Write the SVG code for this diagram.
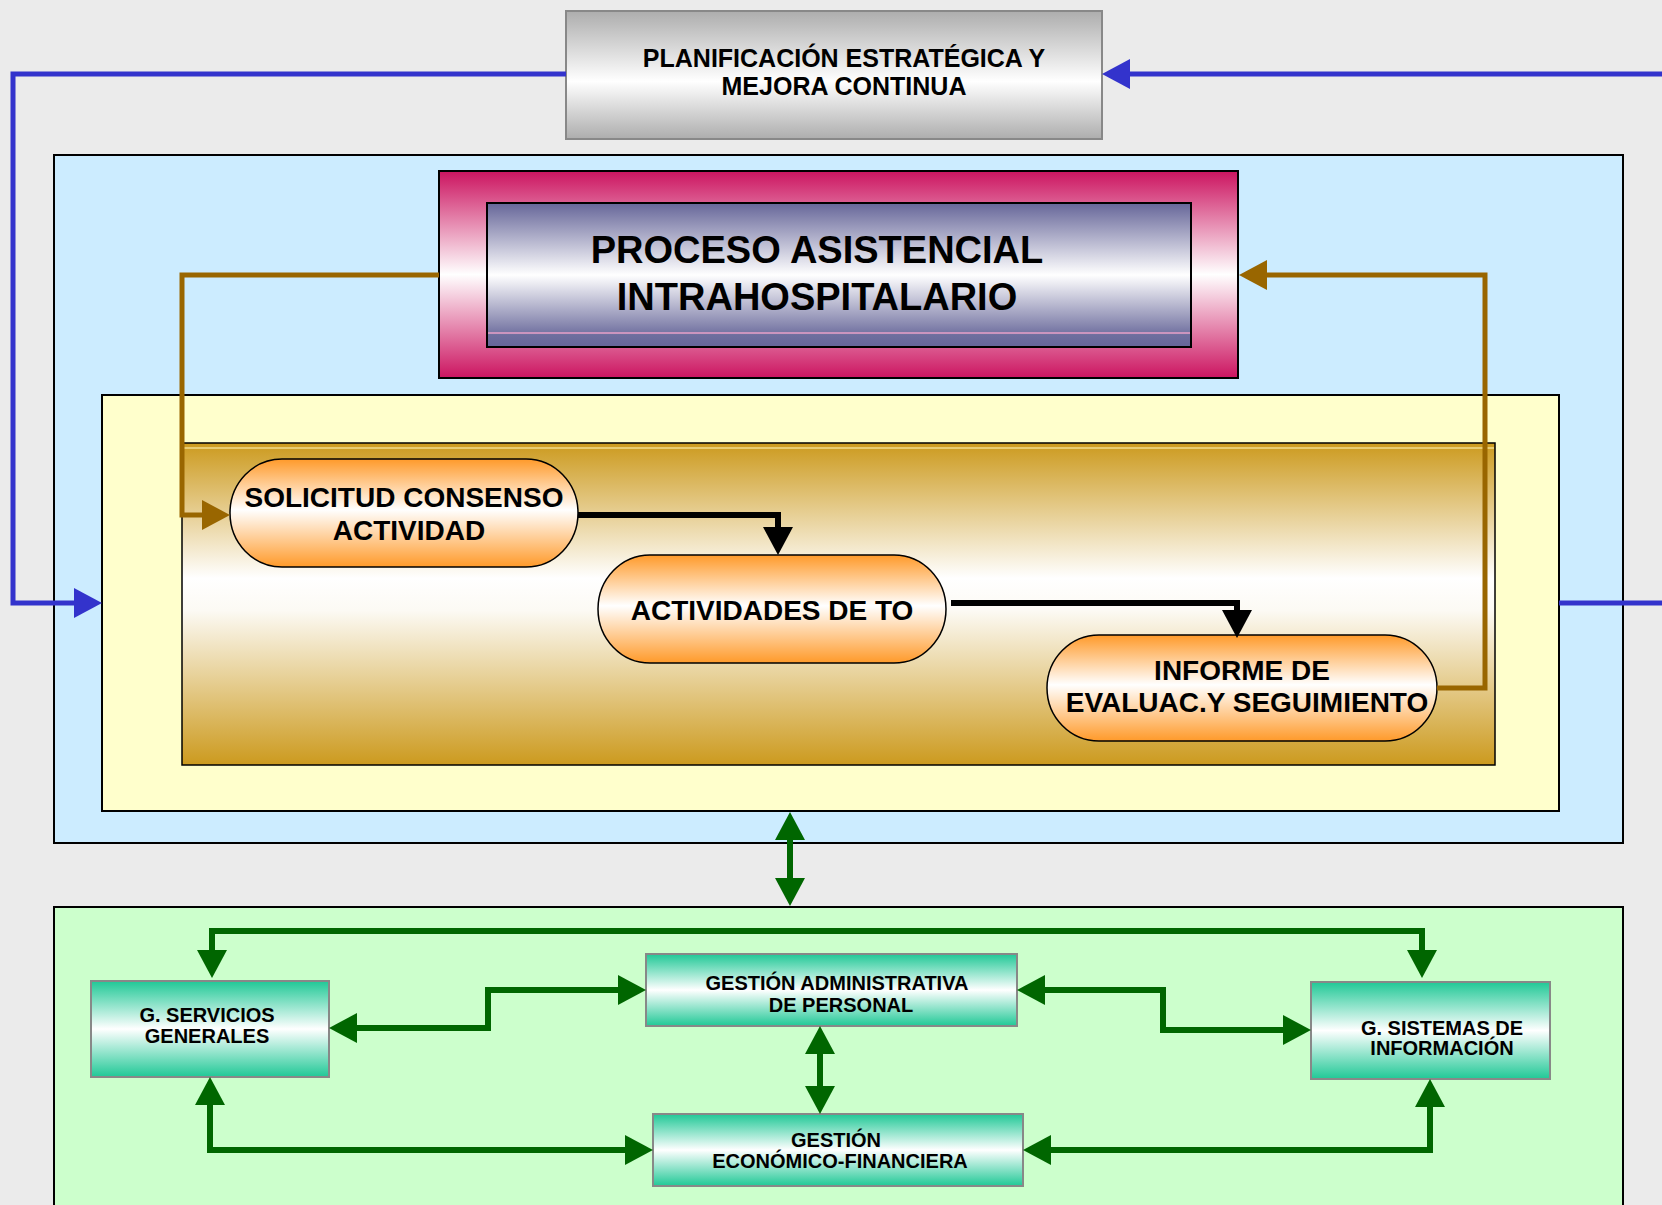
<svg xmlns="http://www.w3.org/2000/svg" width="1662" height="1205" viewBox="0 0 1662 1205">
<defs>
<linearGradient id="gGray" x1="0" y1="0" x2="0" y2="1">
<stop offset="0" stop-color="#ADADAD"/><stop offset="0.55" stop-color="#FFFFFF"/><stop offset="1" stop-color="#ADADAD"/>
</linearGradient>
<linearGradient id="gPink" x1="0" y1="0" x2="0" y2="1">
<stop offset="0" stop-color="#CC1460"/><stop offset="0.5" stop-color="#FFFFFF"/><stop offset="1" stop-color="#CC1460"/>
</linearGradient>
<linearGradient id="gPurple" x1="0" y1="0" x2="0" y2="1">
<stop offset="0" stop-color="#666699"/><stop offset="0.5" stop-color="#FFFFFF"/><stop offset="0.92" stop-color="#6E6E9E"/><stop offset="1" stop-color="#666699"/>
</linearGradient>
<linearGradient id="gGold" x1="0" y1="0" x2="0" y2="1">
<stop offset="0" stop-color="#CC9A1E"/><stop offset="0.42" stop-color="#FFFFFF"/><stop offset="0.52" stop-color="#FCFAF4"/><stop offset="1" stop-color="#CC9A1E"/>
</linearGradient>
<linearGradient id="gOrange" x1="0" y1="0" x2="0" y2="1">
<stop offset="0" stop-color="#FF9A2A"/><stop offset="0.47" stop-color="#FFFFFF"/><stop offset="1" stop-color="#FF9A2A"/>
</linearGradient>
<linearGradient id="gTeal" x1="0" y1="0" x2="0" y2="1">
<stop offset="0" stop-color="#20C896"/><stop offset="0.5" stop-color="#FFFFFF"/><stop offset="1" stop-color="#20C896"/>
</linearGradient>
<marker id="aBlue" viewBox="0 0 28 30" refX="18" refY="15" markerWidth="28" markerHeight="30" markerUnits="userSpaceOnUse" orient="auto-start-reverse"><path d="M0,0 L28,15 L0,30 z" fill="#3333CC"/></marker>
<marker id="aBrown" viewBox="0 0 28 30" refX="18" refY="15" markerWidth="28" markerHeight="30" markerUnits="userSpaceOnUse" orient="auto-start-reverse"><path d="M0,0 L28,15 L0,30 z" fill="#996600"/></marker>
<marker id="aBlack" viewBox="0 0 28 30" refX="18" refY="15" markerWidth="28" markerHeight="30" markerUnits="userSpaceOnUse" orient="auto-start-reverse"><path d="M0,0 L28,15 L0,30 z" fill="#000000"/></marker>
<marker id="aGreen" viewBox="0 0 28 30" refX="18" refY="15" markerWidth="28" markerHeight="30" markerUnits="userSpaceOnUse" orient="auto-start-reverse"><path d="M0,0 L28,15 L0,30 z" fill="#006600"/></marker>
</defs>
<style>
text{font-family:"Liberation Sans",Arial,sans-serif;font-weight:bold;fill:#000;text-anchor:middle}
.t1{font-size:25px}
.t2{font-size:38px}
.t3{font-size:28px}
.t4{font-size:20px}
.blue{stroke:#3333CC;stroke-width:5;fill:none}
.brown{stroke:#996600;stroke-width:5;fill:none}
.black{stroke:#000;stroke-width:6;fill:none}
.green{stroke:#006600;stroke-width:6;fill:none}
.teal{fill:url(#gTeal);stroke:#888;stroke-width:2}
.node{fill:url(#gOrange);stroke:#000;stroke-width:1.5}
</style>
<rect x="0" y="0" width="1662" height="1205" fill="#EBEBEB"/>
<g id="container-blue"><rect x="54" y="155" width="1569" height="688" fill="#CCECFF" stroke="#000" stroke-width="2"/></g>
<g id="container-yellow"><rect x="102" y="395" width="1457" height="416" fill="#FFFFCC" stroke="#000" stroke-width="2"/></g>
<g id="container-gold"><rect x="182" y="443" width="1313" height="322" fill="url(#gGold)" stroke="#000" stroke-width="1.5"/><line x1="183" y1="448" x2="1494" y2="448" stroke="#F2DC8C" stroke-width="1.5"/></g>
<g id="container-green"><rect x="54" y="907" width="1569" height="310" fill="#CCFFCC" stroke="#000" stroke-width="2"/></g>
<g id="planificacion">
<rect x="566" y="11" width="536" height="128" fill="url(#gGray)" stroke="#888" stroke-width="2"/>
<text class="t1" x="844" y="67">PLANIFICACIÓN ESTRATÉGICA Y</text>
<text class="t1" x="844" y="95">MEJORA CONTINUA</text>
</g>
<g id="proceso">
<rect x="439" y="171" width="799" height="207" fill="url(#gPink)" stroke="#000" stroke-width="2"/>
<rect x="487" y="203" width="704" height="144" fill="url(#gPurple)" stroke="#000" stroke-width="2"/>
<line x1="488" y1="333" x2="1190" y2="333" stroke="#E8A0C8" stroke-width="1.5"/>
<text class="t2" x="817" y="263">PROCESO ASISTENCIAL</text>
<text class="t2" x="817" y="310">INTRAHOSPITALARIO</text>
</g>
<g id="solicitud">
<rect class="node" x="230" y="459" width="348" height="108" rx="52" ry="54"/>
<text class="t3" x="404" y="507">SOLICITUD CONSENSO</text>
<text class="t3" x="409" y="540">ACTIVIDAD</text>
</g>
<g id="actividades">
<rect class="node" x="598" y="555" width="348" height="108" rx="52" ry="54"/>
<text class="t3" x="772" y="620">ACTIVIDADES DE TO</text>
</g>
<g id="informe">
<rect class="node" x="1047" y="635" width="390" height="106" rx="52" ry="53"/>
<text class="t3" x="1242" y="680">INFORME DE</text>
<text class="t3" x="1247" y="712">EVALUAC.Y SEGUIMIENTO</text>
</g>
<g id="servicios">
<rect class="teal" x="91" y="981" width="238" height="96"/>
<text class="t4" x="207" y="1022">G. SERVICIOS</text>
<text class="t4" x="207" y="1043">GENERALES</text>
</g>
<g id="administrativa">
<rect class="teal" x="646" y="954" width="371" height="72"/>
<text class="t4" x="837" y="990">GESTIÓN ADMINISTRATIVA</text>
<text class="t4" x="841" y="1012">DE PERSONAL</text>
</g>
<g id="sistemas">
<rect class="teal" x="1311" y="982" width="239" height="97"/>
<text class="t4" x="1442" y="1035">G. SISTEMAS DE</text>
<text class="t4" x="1442" y="1055">INFORMACIÓN</text>
</g>
<g id="economico">
<rect class="teal" x="653" y="1114" width="370" height="72"/>
<text class="t4" x="836" y="1147">GESTIÓN</text>
<text class="t4" x="840" y="1168">ECONÓMICO-FINANCIERA</text>
</g>
<g id="connectors">
<path class="blue" d="M566,74 H13 V603 H92" marker-end="url(#aBlue)"/>
<path class="blue" d="M1662,74 H1112" marker-end="url(#aBlue)"/>
<path class="blue" d="M1559,603 H1662"/>
<path class="brown" d="M439,275 H182 V515 H220" marker-end="url(#aBrown)"/>
<path class="brown" d="M1437,688 H1485 V275 H1249" marker-end="url(#aBrown)"/>
<path class="black" d="M578,515 H778 V545" marker-end="url(#aBlack)"/>
<path class="black" d="M951,603 H1237 V628" marker-end="url(#aBlack)"/>
<path class="green" d="M790,822 V896" marker-start="url(#aGreen)" marker-end="url(#aGreen)"/>
<path class="green" d="M212,968 V931 H1422 V968" marker-start="url(#aGreen)" marker-end="url(#aGreen)"/>
<path class="green" d="M339,1028 H488 V990 H636" marker-start="url(#aGreen)" marker-end="url(#aGreen)"/>
<path class="green" d="M1027,990 H1163 V1030 H1301" marker-start="url(#aGreen)" marker-end="url(#aGreen)"/>
<path class="green" d="M820,1036 V1104" marker-start="url(#aGreen)" marker-end="url(#aGreen)"/>
<path class="green" d="M210,1087 V1150 H643" marker-start="url(#aGreen)" marker-end="url(#aGreen)"/>
<path class="green" d="M1430,1089 V1150 H1033" marker-start="url(#aGreen)" marker-end="url(#aGreen)"/>
</g>
</svg>
